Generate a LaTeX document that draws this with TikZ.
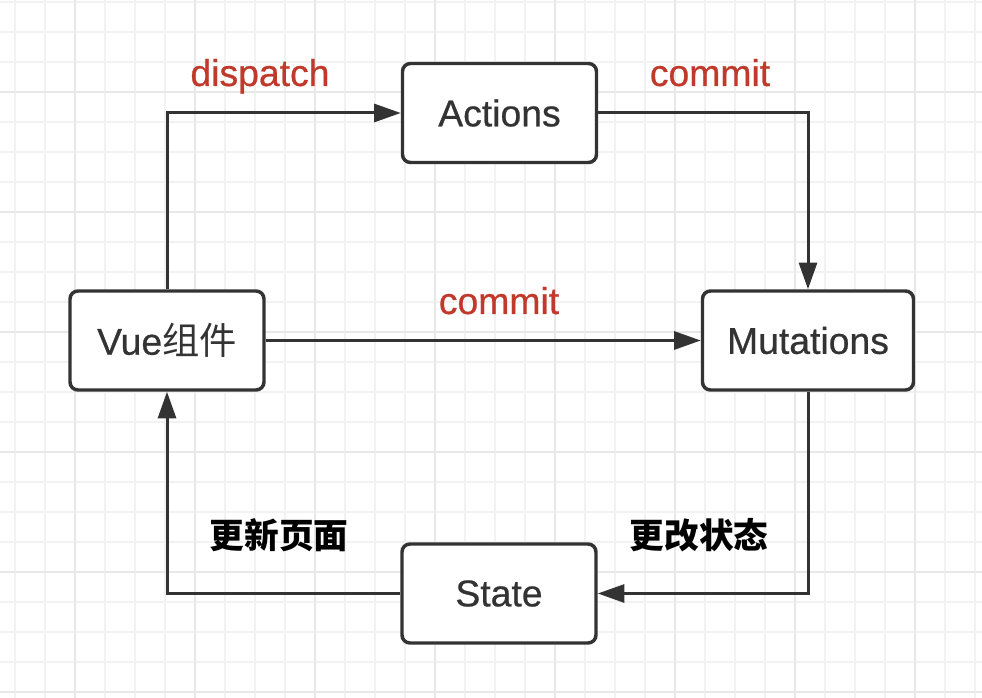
\documentclass[tikz,border=0pt]{standalone}
\usepackage{fontspec}
\setmainfont{Liberation Sans}[FakeBold=0.6]
\newfontfamily\cjk{Noto Sans CJK SC}
\usetikzlibrary{arrows.meta}
\definecolor{inkgray}{HTML}{333333}
\definecolor{labelred}{HTML}{C0392B}
\definecolor{gridminor}{HTML}{F2F2F2}
\definecolor{gridmajor}{HTML}{E8E8E8}
\tikzset{every picture/.style={line width=0.75pt}}

\begin{document}
\begin{tikzpicture}[x=0.75pt,y=0.75pt,yscale=-1,xscale=1,
  box/.style={draw=inkgray, line width=2.6pt, rounded corners=6pt, fill=white,
    minimum width=145.5pt, minimum height=74.25pt, inner sep=0pt,
    text=inkgray, font=\fontsize{28}{32}\selectfont},
  flow/.style={draw=inkgray, line width=2.25pt,
    -{Triangle[length=20pt,width=13.5pt]}},
  redlabel/.style={text=labelred, inner sep=0pt, anchor=base,
    font=\fontsize{28}{32}\selectfont},
  cnlabel/.style={text=black, inner sep=0pt,
    font=\fontsize{26}{30}\selectfont\cjk\bfseries}]
\useasboundingbox (0,0) rectangle (982,698);
\fill[white] (0,0) rectangle (982,698);

%Grid
\foreach \x in {15,45,...,975} \draw[gridminor, line width=1pt] (\x,0) -- (\x,698);
\foreach \y in {2,32,...,692} \draw[gridminor, line width=1pt] (0,\y) -- (982,\y);
\foreach \x in {75,195,...,915} \draw[gridmajor, line width=1pt] (\x,0) -- (\x,698);
\foreach \y in {92,212,...,692} \draw[gridmajor, line width=1pt] (0,\y) -- (982,\y);

%Shape: Rounded Rectangle [id:actions]
\node[box] (actions) at (499.5,113) {Actions};
%Shape: Rounded Rectangle [id:vue]
\node[box] (vue) at (167,340.5) {Vue{\cjk 组件}};
%Shape: Rounded Rectangle [id:mutations]
\node[box, minimum width=158.25pt] (mutations) at (808,340.5) {Mutations};
%Shape: Rounded Rectangle [id:state]
\node[box] (state) at (499,593.5) {State};

%Connector: dispatch
\draw[flow] (vue.north) |- (actions.west);
%Connector: commit
\draw[flow] (actions.east) -| (mutations.north);
%Connector: commit
\draw[flow] (vue.east) -- (mutations.west);
%Connector: change state
\draw[flow] (mutations.south) |- (state.east);
%Connector: update page
\draw[flow] (state.west) -| (vue.south);

% Text Node
\node[redlabel] (dispatchlabel) at (260,86) {dispatch};
% Text Node
\node[redlabel] (commitlabel) at (710,86) {commit};
% Text Node
\node[redlabel] (commitmidlabel) at (499,314) {commit};
% Text Node
\node[cnlabel] (updatelabel) at (279,535) {更新页面};
% Text Node
\node[cnlabel] (changelabel) at (699,535) {更改状态};

\end{tikzpicture}
\end{document}
